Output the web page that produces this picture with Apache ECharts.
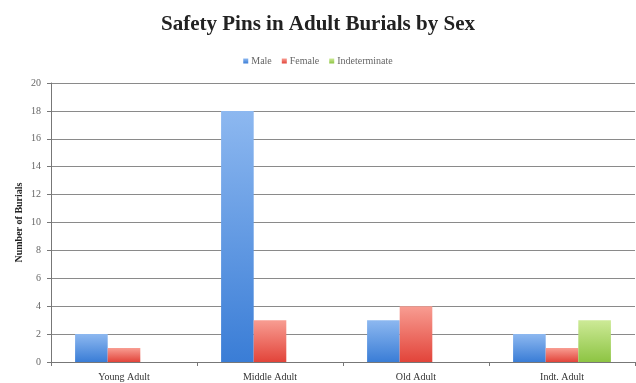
<!DOCTYPE html>
<html><head><meta charset="utf-8">
<script src="https://cdn.jsdelivr.net/npm/echarts@6/dist/echarts.min.js"></script>
<style>html,body{margin:0;padding:0;background:#fff}#c{width:636px;height:383px}</style>
</head><body><div id="c"></div>
<script>
var categories = ['Young Adult', 'Middle Adult', 'Old Adult', 'Indt. Adult'];
var male = [2, 18, 3, 2];
var female = [1, 3, 4, 1];
var indeterminate = [0, 0, 0, 3];
var yTicks = [0, 2, 4, 6, 8, 10, 12, 14, 16, 18, 20];

function grad(top, bottom) {
  return new echarts.graphic.LinearGradient(0, 0, 0, 1, [
    {offset: 0, color: top}, {offset: 1, color: bottom}
  ]);
}
var font = 'Liberation Serif';
var chart = echarts.init(document.getElementById('c'));
chart.setOption({
  animation: false,
  textStyle: {fontFamily: font},
  title: {
    text: 'Safety Pins in Adult Burials by Sex',
    left: 'center', top: 9,
    textStyle: {fontFamily: font, fontSize: 21, fontWeight: 'bold', color: '#222'}
  },
  legend: {
    top: 51, left: 'center',
    itemWidth: 5, itemHeight: 5, itemGap: 10,
    icon: 'rect',
    textStyle: {fontFamily: font, fontSize: 10, color: '#666', padding: [0, 0, 0, -2]},
    data: ['Male', 'Female', 'Indeterminate']
  },
  grid: {left: 51, right: 1, top: 83, bottom: 21, containLabel: false},
  xAxis: {
    type: 'category', data: categories,
    axisLine: {lineStyle: {color: '#777'}},
    axisTick: {show: true, alignWithLabel: false, length: 4, lineStyle: {color: '#777'}},
    axisLabel: {fontFamily: font, fontSize: 10, color: '#333', margin: 10}
  },
  yAxis: {
    type: 'value', min: yTicks[0], max: yTicks[yTicks.length - 1], interval: 2,
    name: 'Number of Burials', nameLocation: 'middle', nameGap: 27, nameMoveOverlap: false,
    nameTextStyle: {fontFamily: font, fontSize: 10, fontWeight: 'bold', color: '#222'},
    axisLine: {show: true, lineStyle: {color: '#777'}},
    axisTick: {show: true, length: 4, lineStyle: {color: '#777'}},
    splitLine: {lineStyle: {color: '#8a8a8a', width: 1}},
    axisLabel: {fontFamily: font, fontSize: 10, color: '#666', margin: 10}
  },
  series: [
    {name: 'Male', type: 'bar', data: male, barGap: '0%', barCategoryGap: '33%',
     itemStyle: {color: grad('#8db8f0', '#3a7dd6')}},
    {name: 'Female', type: 'bar', data: female,
     itemStyle: {color: grad('#f89d92', '#e2443a')}},
    {name: 'Indeterminate', type: 'bar', data: indeterminate,
     itemStyle: {color: grad('#cdea97', '#8dc443')}}
  ]
});
</script></body></html>
